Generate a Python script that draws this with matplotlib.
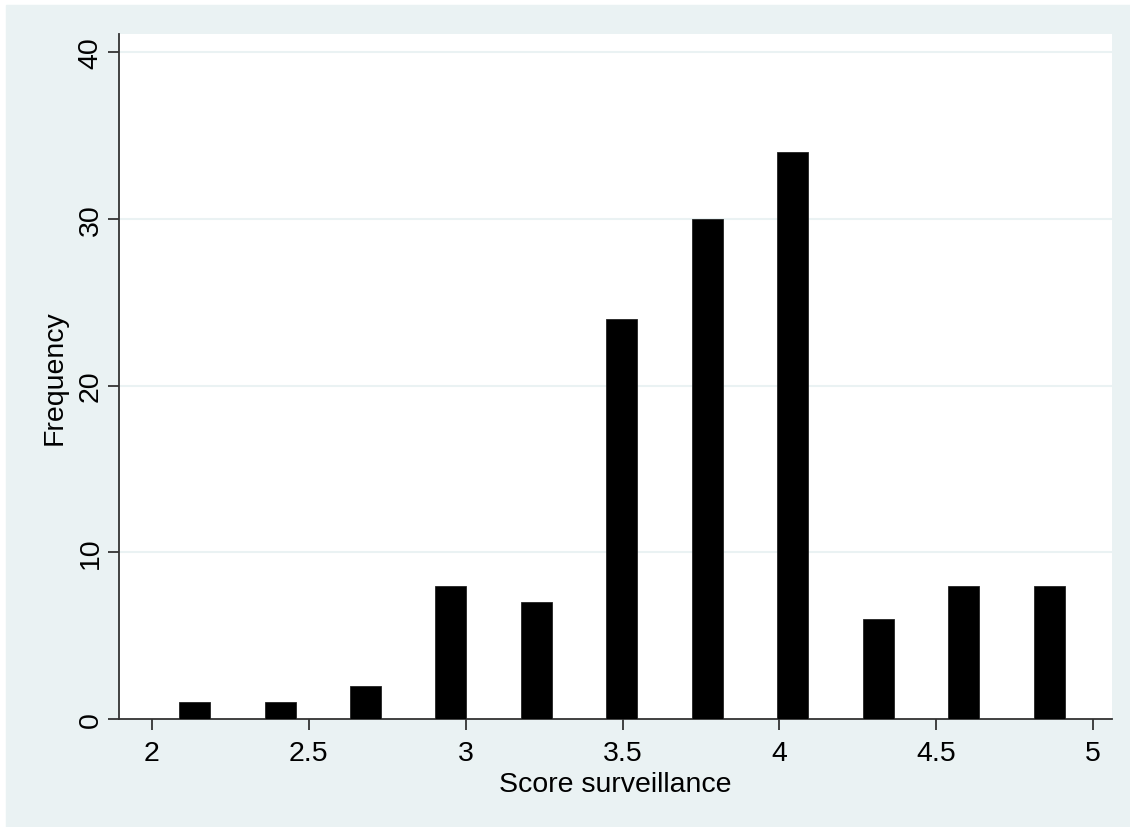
import matplotlib.pyplot as plt
from matplotlib.patches import Rectangle

plt.rcParams['font.family'] = ['Liberation Sans', 'DejaVu Sans']

scores = [2.136, 2.409, 2.682, 2.953, 3.226, 3.497, 3.771, 4.041, 4.315, 4.586, 4.860]
freq = [1, 1, 2, 8, 7, 24, 30, 34, 6, 8, 8]
xticks = [2, 2.5, 3, 3.5, 4, 4.5, 5]
xticklabels = ['2', '2.5', '3', '3.5', '4', '4.5', '5']
yticks = [0, 10, 20, 30, 40]

W, H = 1130, 828
fig = plt.figure(figsize=(W / 100, H / 100), dpi=100, facecolor='white')
fig.patches.append(Rectangle((6 / W, -0.01), 1.02, 1.01 - 6 / H,
                             transform=fig.transFigure, color='#EAF2F3', zorder=-10))

ax = fig.add_axes([119 / W, 1 - 720 / H, (1112 - 119) / W, (720 - 35) / H])
ax.set_zorder(1)
ax.set_facecolor('white')
ax.bar(scores, freq, width=0.099, color='black', edgecolor='#222222', linewidth=0.6, zorder=3)

ax.set_xlim(1.895, 5.06)
ax.set_ylim(0, 41.08)
ax.set_xticks(xticks)
ax.set_xticklabels(xticklabels)
ax.set_yticks(yticks)
ax.set_yticklabels([str(v) for v in yticks], rotation=90, va='center')
for v in yticks[1:]:
    ax.axhline(v, color='#EAF2F3', lw=1.5, zorder=1)

for s in ['top', 'right']:
    ax.spines[s].set_visible(False)
for s in ['left', 'bottom']:
    ax.spines[s].set_color('#333333')
    ax.spines[s].set_linewidth(1.3)
ax.tick_params(direction='out', length=8, width=1.3, color='#333333', labelsize=20.5)
ax.tick_params(axis='x', pad=7)
ax.tick_params(axis='y', pad=3)

ax.set_xlabel('Score surveillance', fontsize=20.5, labelpad=4)
ax.set_ylabel('Frequency', fontsize=20.5, labelpad=7)

fig.savefig('out.png', dpi=100)
